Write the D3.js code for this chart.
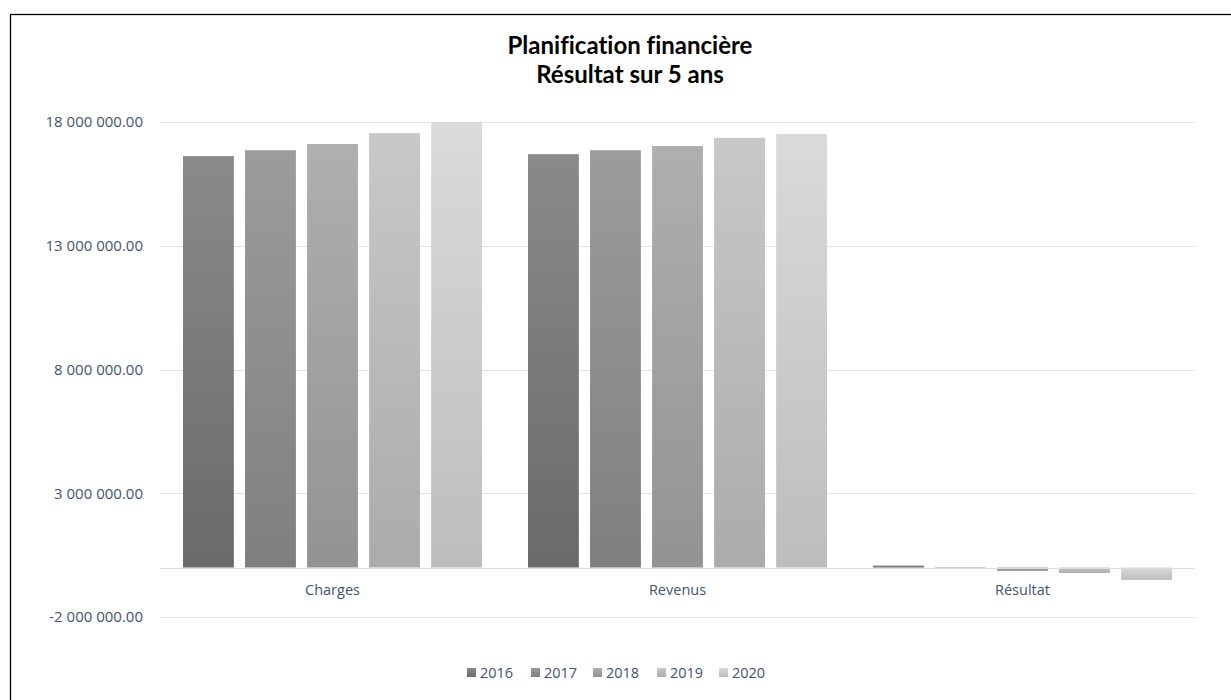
<!DOCTYPE html>
<html><head><meta charset="utf-8">
<script src="https://cdn.jsdelivr.net/npm/d3@7"></script>
<style>body{margin:0;background:#fff}svg{display:block}text{font-variant-ligatures:none}</style>
</head><body><svg id="c" width="1231" height="700"></svg>
<script>
const categories = ["Charges", "Revenus", "Résultat"];
const years = ["2016", "2017", "2018", "2019", "2020"];
const values2016 = [16620000, 16700000, 80000];
const values2017 = [16860000, 16860000, -20000];
const values2018 = [17110000, 17030000, -140000];
const values2019 = [17550000, 17360000, -220000];
const values2020 = [18000000, 17520000, -500000];
const seriesValues = [values2016, values2017, values2018, values2019, values2020];
const tickValues = [-2000000, 3000000, 8000000, 13000000, 18000000];
const topColors = ["#8a8a8a", "#9c9c9c", "#afafaf", "#c8c8c8", "#dadada"];
const bottomColors = ["#6a6a6a", "#7f7f7f", "#939393", "#ababab", "#bdbdbd"];

const svg = d3.select("#c");
const textColor = "#44546a";
const font = "'Open Sans', sans-serif";

// frame
svg.append("rect").attr("x", 10.5).attr("y", 14.5).attr("width", 1240).attr("height", 700)
  .attr("fill", "none").attr("stroke", "#000").attr("stroke-width", 1.3);

// title
const title = svg.append("text").attr("text-anchor", "middle").attr("font-family", "Lato, sans-serif")
  .attr("font-weight", "bold").attr("font-size", 24).attr("fill", "#000");
title.append("tspan").attr("x", 630).attr("y", 54).text("Planification financière");
title.append("tspan").attr("x", 630).attr("y", 83).text("Résultat sur 5 ans");

const left = 160, right = 1195;
const y = d3.scaleLinear().domain([-2000000, 18000000]).range([617, 122]);
const x0 = d3.scaleBand().domain(categories).range([left, right]).paddingInner(0).paddingOuter(0);
const x1 = d3.scaleBand().domain(years).range([23, x0.bandwidth() - 23]).paddingInner(0.18).paddingOuter(0);

// gradients
const defs = svg.append("defs");
years.forEach((yr, i) => {
  const g = defs.append("linearGradient").attr("id", "g" + yr).attr("x1", 0).attr("y1", 0).attr("x2", 0).attr("y2", 1);
  g.append("stop").attr("offset", "0%").attr("stop-color", topColors[i]);
  g.append("stop").attr("offset", "100%").attr("stop-color", bottomColors[i]);
});

// gridlines
svg.append("g").selectAll("line").data(tickValues).join("line")
  .attr("x1", left).attr("x2", right)
  .attr("y1", d => Math.round(y(d)) + 0.5).attr("y2", d => Math.round(y(d)) + 0.5)
  .attr("stroke", "#e1e3ea").attr("stroke-width", 1);

// y axis labels
const fmt = d => d3.format(",.2f")(d).replace(/,/g, " ").replace("−", "-");
svg.append("g").selectAll("text").data(tickValues).join("text")
  .attr("x", 143).attr("y", d => y(d)).attr("dy", "0.35em").attr("text-anchor", "end")
  .attr("font-family", font).attr("font-size", 15).attr("fill", textColor).text(fmt);

// bars
const groups = svg.append("g").selectAll("g").data(categories).join("g")
  .attr("transform", d => `translate(${x0(d)},0)`);
groups.selectAll("rect").data((c, ci) => years.map((yr, i) => ({yr, v: seriesValues[i][ci]})))
  .join("rect")
  .attr("x", d => x1(d.yr)).attr("width", x1.bandwidth())
  .attr("y", d => Math.min(y(d.v), y(0)))
  .attr("height", d => Math.max(1, Math.abs(y(d.v) - y(0))))
  .attr("fill", d => `url(#g${d.yr})`);

// zero line
svg.append("line").attr("x1", left).attr("x2", right)
  .attr("y1", Math.round(y(0)) + 0.5).attr("y2", Math.round(y(0)) + 0.5)
  .attr("stroke", "#d9dbe2").attr("stroke-width", 1);

// category labels
svg.append("g").selectAll("text").data(categories).join("text")
  .attr("x", d => x0(d) + x0.bandwidth() / 2).attr("y", 595).attr("text-anchor", "middle")
  .attr("font-family", font).attr("font-size", 14.5).attr("fill", textColor).text(d => d);

// legend
const legendX = [467, 531, 593, 657, 719];
const lg = svg.append("g").selectAll("g").data(years).join("g")
  .attr("transform", (d, i) => `translate(${legendX[i]},668)`);
lg.append("rect").attr("width", 9).attr("height", 9).attr("fill", d => `url(#g${d})`);
lg.append("text").attr("x", 13).attr("y", 10)
  .attr("font-family", font).attr("font-size", 14.5).attr("fill", textColor).text(d => d);
</script></body></html>
